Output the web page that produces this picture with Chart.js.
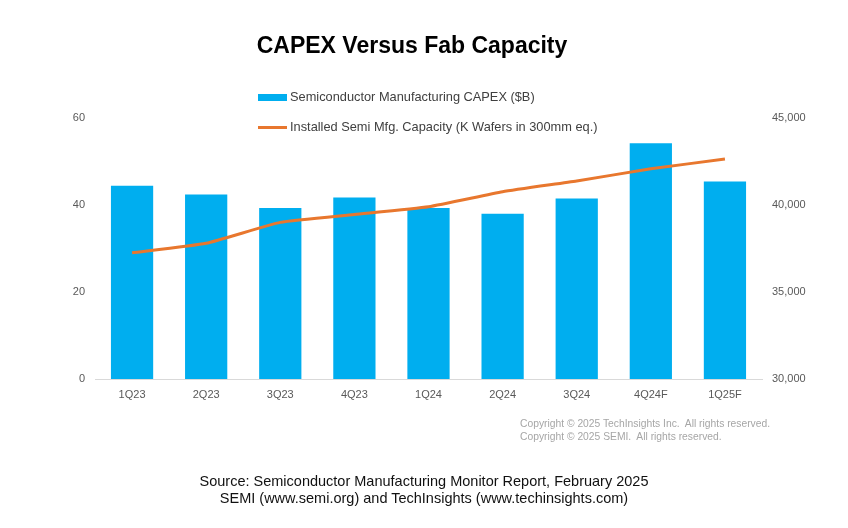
<!DOCTYPE html>
<html>
<head>
<meta charset="utf-8">
<script src="https://cdn.jsdelivr.net/npm/chart.js@4.4.1/dist/chart.umd.min.js"></script>
<style>
  body { margin: 0; background: #fff; font-family: "Liberation Sans", Arial, sans-serif; }
  .wrap { position: relative; width: 848px; height: 528px; overflow: hidden; }
  #capexChart { position: absolute; left: 0; top: 0; }
  .title { position: absolute; left: 0; width: 824px; top: 32px; text-align: center; font-weight: bold; font-size: 23px; color: #000; }
  .legend { position: absolute; left: 258px; top: 89px; font-size: 12.8px; color: #404040; }
  .legend div { height: 30px; display: flex; align-items: flex-start; }
  .legend span.mark { display: inline-block; width: 29px; margin-right: 3px; }
  .copy { position: absolute; left: 520px; top: 417px; font-size: 10.3px; line-height: 13px; color: #a6a6a6; }
  .source { position: absolute; left: 0; width: 848px; top: 473px; text-align: center; font-size: 14.5px; line-height: 17px; color: #111; }
</style>
</head>
<body>
<div class="wrap">
  <canvas id="capexChart" width="848" height="528"></canvas>
  <div class="title">CAPEX Versus Fab Capacity</div>
  <div class="legend" id="legend"></div>
  <div class="copy">Copyright © 2025 TechInsights Inc.&nbsp; All rights reserved.<br>Copyright © 2025 SEMI.&nbsp; All rights reserved.</div>
  <div class="source">Source: Semiconductor Manufacturing Monitor Report, February 2025<br>SEMI (www.semi.org) and TechInsights (www.techinsights.com)</div>
</div>
<script>
const quarters = ["1Q23", "2Q23", "3Q23", "4Q23", "1Q24", "2Q24", "3Q24", "4Q24F", "1Q25F"];
const capex = [44.4, 42.4, 39.3, 41.7, 39.3, 38.0, 41.5, 54.2, 45.4];
const capacity = [37250, 37800, 39000, 39450, 39900, 40760, 41380, 42080, 42640];
const capexTicks = [0, 20, 40, 60];
const capacityTicks = [30000, 35000, 40000, 45000];

const barColor = "#00aeef";
const lineColor = "#e8772e";
const tickColor = "#595959";
const tickFont = { family: "Liberation Sans, Arial, sans-serif", size: 11 };

const ctx = document.getElementById("capexChart");

const chart = new Chart(ctx, {
  type: "bar",
  data: {
    labels: quarters,
    datasets: [
      {
        type: "line",
        label: "Installed Semi Mfg. Capacity (K Wafers in 300mm eq.)",
        data: capacity,
        yAxisID: "y1",
        borderColor: lineColor,
        borderWidth: 3,
        pointRadius: 0,
        tension: 0.15,
        order: 0,
      },
      {
        label: "Semiconductor Manufacturing CAPEX ($B)",
        data: capex,
        yAxisID: "y",
        backgroundColor: barColor,
        borderWidth: 0,
        categoryPercentage: 1,
        barPercentage: 0.57,
        order: 1,
      },
    ],
  },
  options: {
    responsive: false,
    animation: false,
    layout: { padding: { top: 118, bottom: 119, left: 0, right: 0 } },
    plugins: {
      legend: { display: false },
      title: { display: false },
      tooltip: { enabled: false },
    },
    scales: {
      x: {
        grid: { display: false },
        border: { display: true, color: "#d9d9d9", width: 1 },
        ticks: { color: tickColor, font: tickFont, padding: 1 },
        afterFit: (s) => { s.height = 30; },
      },
      y: {
        position: "left",
        min: capexTicks[0],
        max: capexTicks[capexTicks.length - 1],
        grid: { display: false, drawTicks: false },
        border: { display: false },
        afterBuildTicks: (s) => { s.ticks = capexTicks.map((v) => ({ value: v })); },
        ticks: { color: tickColor, font: tickFont, padding: 10 },
        afterFit: (s) => { s.width = 95; },
      },
      y1: {
        position: "right",
        min: capacityTicks[0],
        max: capacityTicks[capacityTicks.length - 1],
        grid: { display: false, drawTicks: false },
        border: { display: false },
        afterBuildTicks: (s) => { s.ticks = capacityTicks.map((v) => ({ value: v })); },
        ticks: {
          color: tickColor,
          font: tickFont,
          padding: 10,
          callback: (v) => v.toLocaleString("en-US"),
        },
        afterFit: (s) => { s.width = 86; },
      },
    },
  },
});

// legend rows in the same order as the reference (bars first, then line)
const legend = document.getElementById("legend");
[chart.data.datasets[1], chart.data.datasets[0]].forEach((ds) => {
  const isLine = ds.type === "line";
  const mark = isLine
    ? `<span class="mark" style="height:3px;margin-top:7px;background:${ds.borderColor}"></span>`
    : `<span class="mark" style="height:7px;margin-top:5px;background:${ds.backgroundColor}"></span>`;
  legend.innerHTML += `<div>${mark}<span>${ds.label}</span></div>`;
});
</script>
</body>
</html>
